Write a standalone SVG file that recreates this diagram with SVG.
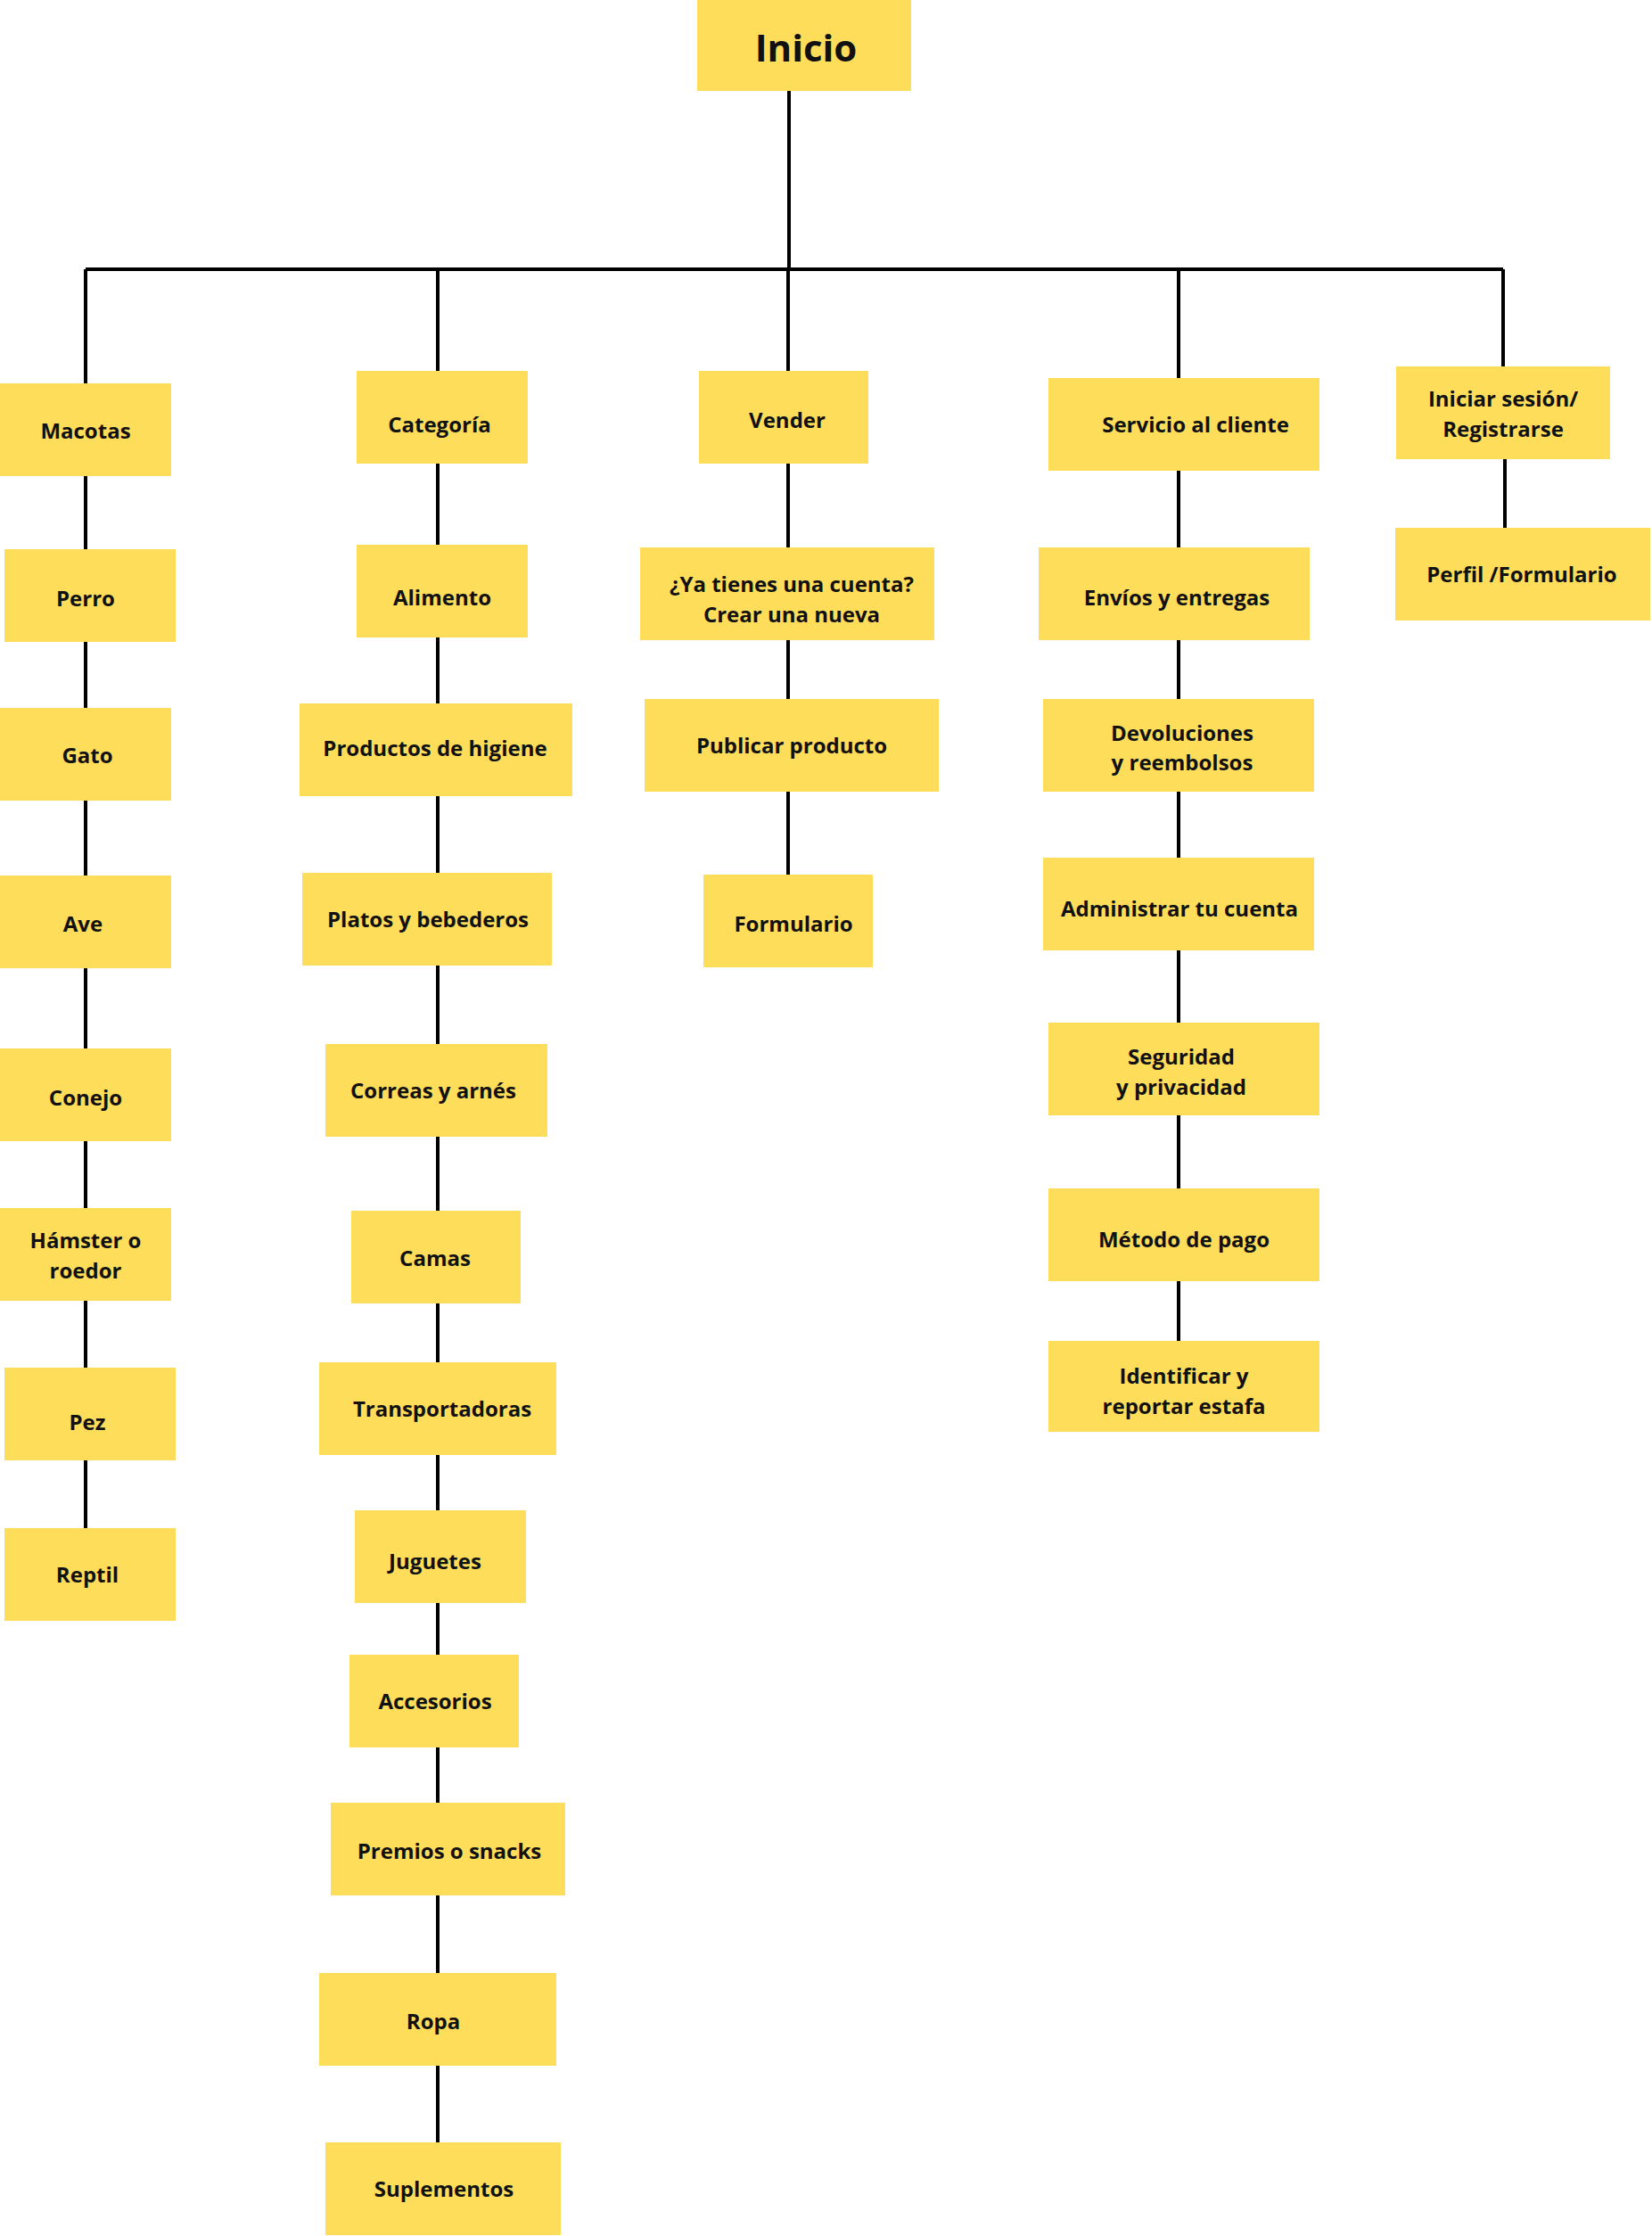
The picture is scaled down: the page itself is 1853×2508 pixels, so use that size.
<svg xmlns="http://www.w3.org/2000/svg" width="1853" height="2508" viewBox="0 0 1853 2508">
<style>
.b{fill:#FEDD5B}
text{font-family:"Open Sans","Noto Sans",sans-serif;font-weight:bold;font-size:24px;fill:#111;text-anchor:middle;dominant-baseline:central}
.c line{stroke:#000;stroke-width:4}
</style>
<rect width="1853" height="2508" fill="#fff"/>
<g class="c" id="connectors">
<line x1="885" y1="102" x2="885" y2="302"/>
<line x1="96" y1="302" x2="1686" y2="302"/>
<line x1="96" y1="302" x2="96" y2="1714"/>
<line x1="491" y1="302" x2="491" y2="2403"/>
<line x1="884" y1="302" x2="884" y2="981"/>
<line x1="1322" y1="302" x2="1322" y2="1504"/>
<line x1="1686" y1="302" x2="1686" y2="411"/>
<line x1="1688" y1="515" x2="1688" y2="592"/>
</g>
<g id="inicio"><rect class="b" x="782" y="0" width="240" height="102"/><text x="904" y="52" style="font-size:42px">Inicio</text></g>
<g id="macotas"><rect class="b" x="0" y="430" width="192" height="104"/><text x="96" y="482">Macotas</text></g>
<g id="perro"><rect class="b" x="5" y="616" width="192" height="104"/><text x="96" y="670">Perro</text></g>
<g id="gato"><rect class="b" x="0" y="794" width="192" height="104"/><text x="98" y="846">Gato</text></g>
<g id="ave"><rect class="b" x="0" y="982" width="192" height="104"/><text x="93" y="1035">Ave</text></g>
<g id="conejo"><rect class="b" x="0" y="1176" width="192" height="104"/><text x="96" y="1230">Conejo</text></g>
<g id="hamster"><rect class="b" x="0" y="1355" width="192" height="104"/><text x="96" y="1390">Hámster o</text><text x="96" y="1424">roedor</text></g>
<g id="pez"><rect class="b" x="5" y="1534" width="192" height="104"/><text x="98" y="1594">Pez</text></g>
<g id="reptil"><rect class="b" x="5" y="1714" width="192" height="104"/><text x="98" y="1765">Reptil</text></g>
<g id="categoria"><rect class="b" x="400" y="416" width="192" height="104"/><text x="493" y="475">Categoría</text></g>
<g id="alimento"><rect class="b" x="400" y="611" width="192" height="104"/><text x="496" y="669">Alimento</text></g>
<g id="higiene"><rect class="b" x="336" y="789" width="306" height="104"/><text x="488" y="838">Productos de higiene</text></g>
<g id="platos"><rect class="b" x="339" y="979" width="280" height="104"/><text x="480" y="1030">Platos y bebederos</text></g>
<g id="correas"><rect class="b" x="365" y="1171" width="249" height="104"/><text x="486" y="1222">Correas y arnés</text></g>
<g id="camas"><rect class="b" x="394" y="1358" width="190" height="104"/><text x="488" y="1410">Camas</text></g>
<g id="transportadoras"><rect class="b" x="358" y="1528" width="266" height="104"/><text x="496" y="1579">Transportadoras</text></g>
<g id="juguetes"><rect class="b" x="398" y="1694" width="192" height="104"/><text x="488" y="1750">Juguetes</text></g>
<g id="accesorios"><rect class="b" x="392" y="1856" width="190" height="104"/><text x="488" y="1907">Accesorios</text></g>
<g id="premios"><rect class="b" x="371" y="2022" width="263" height="104"/><text x="504" y="2075">Premios o snacks</text></g>
<g id="ropa"><rect class="b" x="358" y="2213" width="266" height="104"/><text x="486" y="2266">Ropa</text></g>
<g id="suplementos"><rect class="b" x="365" y="2403" width="264" height="104"/><text x="498" y="2454">Suplementos</text></g>
<g id="vender"><rect class="b" x="784" y="416" width="190" height="104"/><text x="883" y="470">Vender</text></g>
<g id="cuenta"><rect class="b" x="718" y="614" width="330" height="104"/><text x="888" y="654">¿Ya tienes una cuenta?</text><text x="888" y="688">Crear una nueva</text></g>
<g id="publicar"><rect class="b" x="723" y="784" width="330" height="104"/><text x="888" y="835">Publicar producto</text></g>
<g id="formulario"><rect class="b" x="789" y="981" width="190" height="104"/><text x="890" y="1035">Formulario</text></g>
<g id="servicio"><rect class="b" x="1176" y="424" width="304" height="104"/><text x="1341" y="475">Servicio al cliente</text></g>
<g id="envios"><rect class="b" x="1165" y="614" width="304" height="104"/><text x="1320" y="669">Envíos y entregas</text></g>
<g id="devoluciones"><rect class="b" x="1170" y="784" width="304" height="104"/><text x="1326" y="821">Devoluciones</text><text x="1326" y="854">y reembolsos</text></g>
<g id="administrar"><rect class="b" x="1170" y="962" width="304" height="104"/><text x="1323" y="1018">Administrar tu cuenta</text></g>
<g id="seguridad"><rect class="b" x="1176" y="1147" width="304" height="104"/><text x="1325" y="1184">Seguridad</text><text x="1325" y="1218">y privacidad</text></g>
<g id="metodo"><rect class="b" x="1176" y="1333" width="304" height="104"/><text x="1328" y="1389">Método de pago</text></g>
<g id="identificar"><rect class="b" x="1176" y="1504" width="304" height="102"/><text x="1328" y="1542">Identificar y</text><text x="1328" y="1576">reportar estafa</text></g>
<g id="iniciar"><rect class="b" x="1566" y="411" width="240" height="104"/><text x="1686" y="446">Iniciar sesión/</text><text x="1686" y="480">Registrarse</text></g>
<g id="perfil"><rect class="b" x="1565" y="592" width="286" height="104"/><text x="1707" y="643">Perfil /Formulario</text></g>
</svg>
